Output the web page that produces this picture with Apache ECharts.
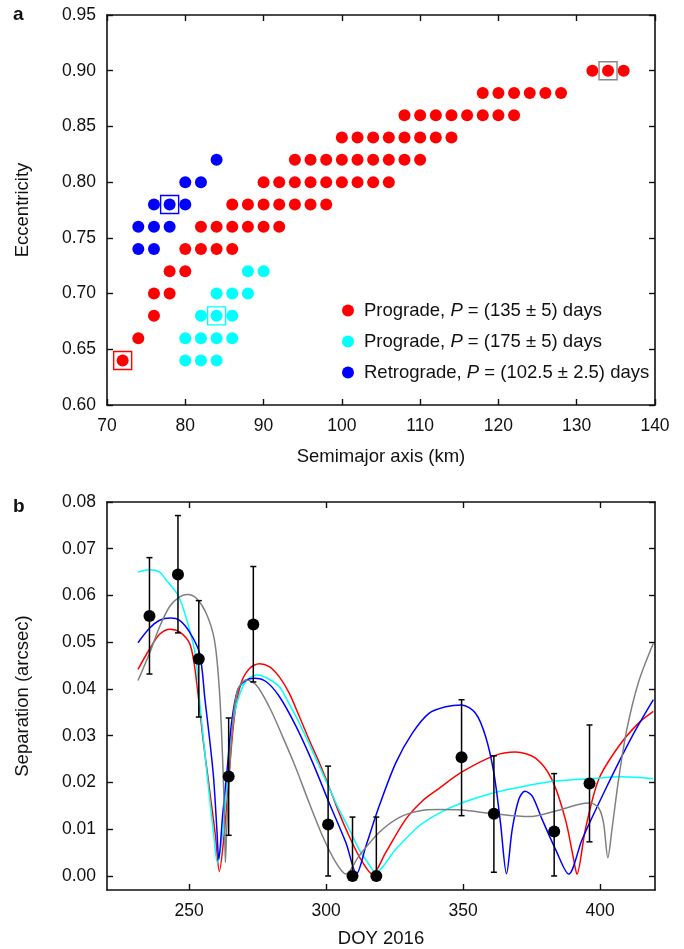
<!DOCTYPE html>
<html>
<head>
<meta charset="utf-8">
<script src="https://cdn.jsdelivr.net/npm/echarts@6/dist/echarts.min.js"></script>
<style>
  html, body { margin: 0; padding: 0; background: #fff; }
  #chart { width: 684px; height: 949px; }
</style>
</head>
<body>
<div id="chart"></div>
<script>
// ---------- Panel a: orbit solutions (semimajor axis km, eccentricity) ----------
const prograde135 = [
  [72, 0.64], [74, 0.66], [76, 0.68], [76, 0.70], [78, 0.70], [78, 0.72], [80, 0.72],
  [80, 0.74], [82, 0.74], [84, 0.74], [86, 0.74],
  [82, 0.76], [84, 0.76], [86, 0.76], [88, 0.76], [90, 0.76], [92, 0.76],
  [86, 0.78], [88, 0.78], [90, 0.78], [92, 0.78], [94, 0.78], [96, 0.78], [98, 0.78],
  [90, 0.80], [92, 0.80], [94, 0.80], [96, 0.80], [98, 0.80], [100, 0.80], [102, 0.80], [104, 0.80], [106, 0.80],
  [94, 0.82], [96, 0.82], [98, 0.82], [100, 0.82], [102, 0.82], [104, 0.82], [106, 0.82], [108, 0.82], [110, 0.82],
  [100, 0.84], [102, 0.84], [104, 0.84], [106, 0.84], [108, 0.84], [110, 0.84], [112, 0.84], [114, 0.84],
  [108, 0.86], [110, 0.86], [112, 0.86], [114, 0.86], [116, 0.86], [118, 0.86], [120, 0.86], [122, 0.86],
  [118, 0.88], [120, 0.88], [122, 0.88], [124, 0.88], [126, 0.88], [128, 0.88],
  [132, 0.90], [134, 0.90], [136, 0.90]
];
const prograde175 = [
  [80, 0.64], [82, 0.64], [84, 0.64],
  [80, 0.66], [82, 0.66], [84, 0.66], [86, 0.66],
  [82, 0.68], [84, 0.68], [86, 0.68],
  [84, 0.70], [86, 0.70], [88, 0.70],
  [88, 0.72], [90, 0.72]
];
const retrograde = [
  [74, 0.74], [76, 0.74],
  [74, 0.76], [76, 0.76], [78, 0.76],
  [76, 0.78], [78, 0.78], [80, 0.78],
  [80, 0.80], [82, 0.80],
  [84, 0.82]
];
// Solutions whose model curves appear in panel b (outlined squares)
const boxRed = [[72, 0.64]];
const boxCyan = [[84, 0.68]];
const boxBlue = [[78, 0.78]];
const boxGray = [[134, 0.90]];

const seriesNames = [
  'Prograde, P = (135 ± 5) days',
  'Prograde, P = (175 ± 5) days',
  'Retrograde, P = (102.5 ± 2.5) days'
];

// ---------- Panel b: measured separations (DOY 2016, arcsec) ----------
const obsDoy  = [235.5, 245.9, 253.5, 264.4, 273.4, 300.7, 309.6, 318.3, 349.4, 361.2, 383.2, 396.1];
const obsSep  = [0.0556, 0.0645, 0.0464, 0.0213, 0.0538, 0.0110, 0.0000, 0.0000, 0.0254, 0.0133, 0.0095, 0.0198];
const obsLow  = [0.0432, 0.0520, 0.0340, 0.0087, 0.0415, 0.0000, 0.0000, 0.0000, 0.0129, 0.0008, 0.0000, 0.0073];
const obsHigh = [0.0681, 0.0771, 0.0589, 0.0338, 0.0662, 0.0235, 0.0126, 0.0126, 0.0377, 0.0257, 0.0219, 0.0323];

// Model separation curves [DOY, arcsec]
const modelRed = [
  [231.3, 0.0442], [235.5, 0.0485], [239.2, 0.0517], [243.1, 0.0528], [246.5, 0.0522],
  [250.1, 0.0498], [251.8, 0.0455], [253.4, 0.0380], [255.0, 0.0295], [256.8, 0.0213],
  [258.3, 0.0145], [259.6, 0.0085], [261.0, 0.0010], [262.7, 0.0085], [264.5, 0.0213],
  [266.5, 0.0341], [268.9, 0.0412], [272.0, 0.0444], [275.6, 0.0454], [279.2, 0.0448],
  [282.9, 0.0426], [286.5, 0.0391], [290.2, 0.0341], [293.8, 0.0291], [297.5, 0.0242],
  [301.1, 0.0190], [304.7, 0.0135], [308.4, 0.0085], [312.6, 0.0036], [316.9, 0.0004],
  [321.7, 0.0050], [329.0, 0.0121], [335.0, 0.0160], [341.1, 0.0187], [349.4, 0.0222],
  [361.2, 0.0257], [369.1, 0.0265], [376.4, 0.0252], [382.4, 0.0206], [387.3, 0.0121],
  [390.3, 0.0036], [391.5, 0.0004], [394.6, 0.0100], [399.4, 0.0206], [406.7, 0.0277],
  [414.0, 0.0327], [419.4, 0.0352]
];
const modelCyan = [
  [231.3, 0.0650], [235.5, 0.0655], [239.2, 0.0650], [241.6, 0.0633], [246.0, 0.0600],
  [249.5, 0.0540], [252.4, 0.0468], [254.0, 0.0362], [256.6, 0.0213], [259.0, 0.0085],
  [260.3, 0.0028], [262.1, 0.0085], [264.1, 0.0213], [266.3, 0.0341], [269.5, 0.0405],
  [272.3, 0.0425], [275.0, 0.0430], [278.5, 0.0423], [282.9, 0.0405], [286.5, 0.0368],
  [290.2, 0.0327], [293.8, 0.0282], [297.5, 0.0235], [301.1, 0.0188], [304.7, 0.0142],
  [308.4, 0.0100], [312.0, 0.0057], [315.0, 0.0030], [318.0, 0.0008], [325.4, 0.0057],
  [333.9, 0.0107], [341.1, 0.0134], [349.4, 0.0156], [361.2, 0.0178], [371.5, 0.0191],
  [383.7, 0.0203], [395.8, 0.0208], [408.0, 0.0212], [419.4, 0.0208]
];
const modelBlue = [
  [231.3, 0.0499], [235.5, 0.0530], [239.2, 0.0547], [243.1, 0.0552], [246.5, 0.0547],
  [250.1, 0.0522], [253.8, 0.0476], [255.8, 0.0375], [257.5, 0.0290], [258.9, 0.0210],
  [260.1, 0.0100], [260.8, 0.0036], [262.2, 0.0130], [263.8, 0.0225], [265.5, 0.0330],
  [267.7, 0.0398], [270.8, 0.0419], [273.8, 0.0423], [278.0, 0.0416], [282.9, 0.0384],
  [289.0, 0.0320], [295.1, 0.0242], [301.1, 0.0156], [307.2, 0.0071], [311.1, 0.0005],
  [314.5, 0.0064], [319.3, 0.0149], [325.4, 0.0242], [331.5, 0.0306], [337.5, 0.0348],
  [343.6, 0.0362], [349.4, 0.0366], [354.5, 0.0348], [358.2, 0.0298], [361.2, 0.0220],
  [363.6, 0.0114], [365.8, 0.0005], [367.9, 0.0100], [370.3, 0.0164], [372.5, 0.0181],
  [375.2, 0.0171], [378.8, 0.0121], [383.7, 0.0057], [388.5, 0.0004], [393.4, 0.0078],
  [401.9, 0.0185], [411.6, 0.0298], [419.4, 0.0377]
];
const modelGray = [
  [231.3, 0.0418], [235.5, 0.0476], [239.2, 0.0533], [242.8, 0.0576], [246.5, 0.0597],
  [249.5, 0.0602], [252.6, 0.0594], [256.2, 0.0562], [259.2, 0.0505], [261.0, 0.0400],
  [262.2, 0.0250], [262.9, 0.0120], [263.2, 0.0029], [263.7, 0.0100], [264.6, 0.0213],
  [265.9, 0.0327], [267.7, 0.0398], [270.8, 0.0419], [274.4, 0.0409], [279.2, 0.0362],
  [284.1, 0.0298], [289.0, 0.0230], [293.8, 0.0156], [298.7, 0.0085], [303.5, 0.0029],
  [307.2, 0.0004], [312.0, 0.0043], [319.3, 0.0093], [326.6, 0.0125], [333.9, 0.0139],
  [341.1, 0.0142], [349.4, 0.0141], [361.2, 0.0133], [374.0, 0.0127], [383.7, 0.0139],
  [392.1, 0.0153], [396.4, 0.0156], [399.4, 0.0146], [401.2, 0.0114], [402.8, 0.0039],
  [404.3, 0.0100], [406.7, 0.0206], [409.7, 0.0313], [414.0, 0.0415], [419.4, 0.0498]
];

// Tick values
const semimajorTicks = { min: 70, max: 140, step: 10 };
const eccTicks = { min: 0.60, max: 0.95, step: 0.05 };
const doyTicks = [250, 300, 350, 400];
const sepTicks = [0.00, 0.01, 0.02, 0.03, 0.04, 0.05, 0.06, 0.07, 0.08];

// ---------- styling ----------
const FONT = 'Liberation Sans';
const INK = '#111';
const FS_TICK = 17.5;
const FS_NAME = 18.5;
const frameLine = { show: true, onZero: false, lineStyle: { color: INK, width: 1.6 } };
const innerTick = { show: true, inside: true, length: 6, lineStyle: { color: INK, width: 1.4 } };
const labelStyle = { color: INK, fontFamily: FONT, fontSize: FS_TICK };
const nameStyle = { color: INK, fontFamily: FONT, fontSize: FS_NAME };

function mirrorAxis(base, position) {
  return Object.assign({}, base, {
    position: position,
    name: '',
    axisLabel: Object.assign({}, base.axisLabel, { show: false }),
    axisTick: Object.assign({}, base.axisTick, { show: true })
  });
}

const xA = {
  type: 'value', gridIndex: 0, position: 'bottom',
  min: semimajorTicks.min, max: semimajorTicks.max, interval: semimajorTicks.step,
  axisLine: frameLine, axisTick: innerTick, splitLine: { show: false },
  axisLabel: Object.assign({ margin: 12 }, labelStyle),
  name: 'Semimajor axis (km)', nameLocation: 'middle', nameGap: 42, nameTextStyle: nameStyle
};
const yA = {
  type: 'value', gridIndex: 0, position: 'left',
  min: eccTicks.min, max: eccTicks.max, interval: eccTicks.step,
  axisLine: frameLine, axisTick: innerTick, splitLine: { show: false },
  axisLabel: Object.assign({ margin: 11, formatter: v => v.toFixed(2) }, labelStyle),
  name: 'Eccentricity', nameLocation: 'middle', nameRotate: 90, nameGap: 75, nameTextStyle: nameStyle
};
const xB = {
  type: 'value', gridIndex: 1, position: 'bottom',
  min: 220, max: 420,
  axisLine: frameLine,
  axisTick: Object.assign({}, innerTick, { customValues: doyTicks }),
  splitLine: { show: false },
  axisLabel: Object.assign({ margin: 12, customValues: doyTicks }, labelStyle),
  name: 'DOY 2016', nameLocation: 'middle', nameGap: 39, nameTextStyle: nameStyle
};
const yB = {
  type: 'value', gridIndex: 1, position: 'left',
  min: -0.003, max: 0.08,
  axisLine: frameLine,
  axisTick: Object.assign({}, innerTick, { customValues: sepTicks }),
  splitLine: { show: false },
  axisLabel: Object.assign({ margin: 11, customValues: sepTicks, formatter: v => v.toFixed(2) }, labelStyle),
  name: 'Separation (arcsec)', nameLocation: 'middle', nameRotate: 90, nameGap: 75, nameTextStyle: nameStyle
};

const dotColors = ['#ff0000', '#00ffff', '#0000ff'];

function dots(name, data, color) {
  return {
    name: name, type: 'scatter', xAxisIndex: 0, yAxisIndex: 0,
    data: data, symbol: 'circle', symbolSize: 12,
    itemStyle: { color: color, opacity: 1 }, emphasis: { disabled: true }, z: 3
  };
}
function box(data, color) {
  return {
    type: 'scatter', xAxisIndex: 0, yAxisIndex: 0,
    data: data, symbol: 'rect', symbolSize: 18,
    itemStyle: { color: 'rgba(0,0,0,0)', borderColor: color, borderWidth: 1.4, opacity: 1 },
    emphasis: { disabled: true }, z: 4, silent: true
  };
}
function curve(data, color) {
  return {
    type: 'line', xAxisIndex: 2, yAxisIndex: 2,
    data: data, showSymbol: false, symbol: 'none',
    smooth: 0.3,
    lineStyle: { color: color, width: 1.5 },
    emphasis: { disabled: true }, z: 2, silent: true
  };
}

const option = {
  animation: false,
  backgroundColor: '#fff',
  textStyle: { fontFamily: FONT },
  title: [
    { text: 'a', left: 8, top: 0, textStyle: { fontFamily: FONT, fontWeight: 'bold', fontSize: 19, color: INK } },
    { text: 'b', left: 8, top: 492, textStyle: { fontFamily: FONT, fontWeight: 'bold', fontSize: 19, color: INK } }
  ],
  grid: [
    { left: 107, top: 15, width: 548, height: 390, containLabel: false },
    { left: 107, top: 502, width: 548, height: 389, containLabel: false }
  ],
  xAxis: [xA, mirrorAxis(xA, 'top'), xB, mirrorAxis(xB, 'top')],
  yAxis: [yA, mirrorAxis(yA, 'right'), yB, mirrorAxis(yB, 'right')],
  legend: {
    data: seriesNames,
    orient: 'vertical',
    left: 337, top: 296,
    itemWidth: 22, itemHeight: 12, itemGap: 12,
    icon: 'circle',
    selectedMode: false,
    formatter: function (name) {
      const parts = name.split('P =');
      return '{t|' + parts[0] + '}{i|P}{t| =' + parts[1] + '}';
    },
    textStyle: {
      color: INK, fontFamily: FONT, fontSize: FS_NAME,
      rich: {
        t: { color: INK, fontFamily: FONT, fontSize: FS_NAME },
        i: { color: INK, fontFamily: FONT, fontSize: FS_NAME, fontStyle: 'italic' }
      }
    }
  },
  series: [
    dots(seriesNames[0], prograde135, dotColors[0]),
    dots(seriesNames[1], prograde175, dotColors[1]),
    dots(seriesNames[2], retrograde, dotColors[2]),
    box(boxRed, '#ff0000'),
    box(boxCyan, '#00ffff'),
    box(boxBlue, '#0000ff'),
    box(boxGray, '#888888'),
    curve(modelRed, '#ff0000'),
    curve(modelCyan, '#00ffff'),
    curve(modelBlue, '#0000ff'),
    curve(modelGray, '#808080'),
    {
      type: 'custom', xAxisIndex: 2, yAxisIndex: 2,
      data: obsDoy.map((d, i) => [d, obsLow[i], obsHigh[i]]),
      encode: { x: 0, y: [1, 2] },
      silent: true, z: 5,
      renderItem: function (params, api) {
        const x = api.value(0);
        const lo = api.coord([x, api.value(1)]);
        const hi = api.coord([x, api.value(2)]);
        const cap = 3;
        const st = { stroke: '#000', lineWidth: 1.5 };
        return {
          type: 'group',
          children: [
            { type: 'line', shape: { x1: lo[0], y1: lo[1], x2: hi[0], y2: hi[1] }, style: st },
            { type: 'line', shape: { x1: lo[0] - cap, y1: lo[1], x2: lo[0] + cap, y2: lo[1] }, style: st },
            { type: 'line', shape: { x1: hi[0] - cap, y1: hi[1], x2: hi[0] + cap, y2: hi[1] }, style: st }
          ]
        };
      }
    },
    {
      type: 'scatter', xAxisIndex: 2, yAxisIndex: 2,
      data: obsDoy.map((d, i) => [d, obsSep[i]]),
      symbol: 'circle', symbolSize: 12,
      itemStyle: { color: '#000', opacity: 1 }, emphasis: { disabled: true }, z: 6, silent: true
    }
  ]
};

echarts.init(document.getElementById('chart'), null, { renderer: 'canvas' }).setOption(option);
</script>
</body>
</html>
